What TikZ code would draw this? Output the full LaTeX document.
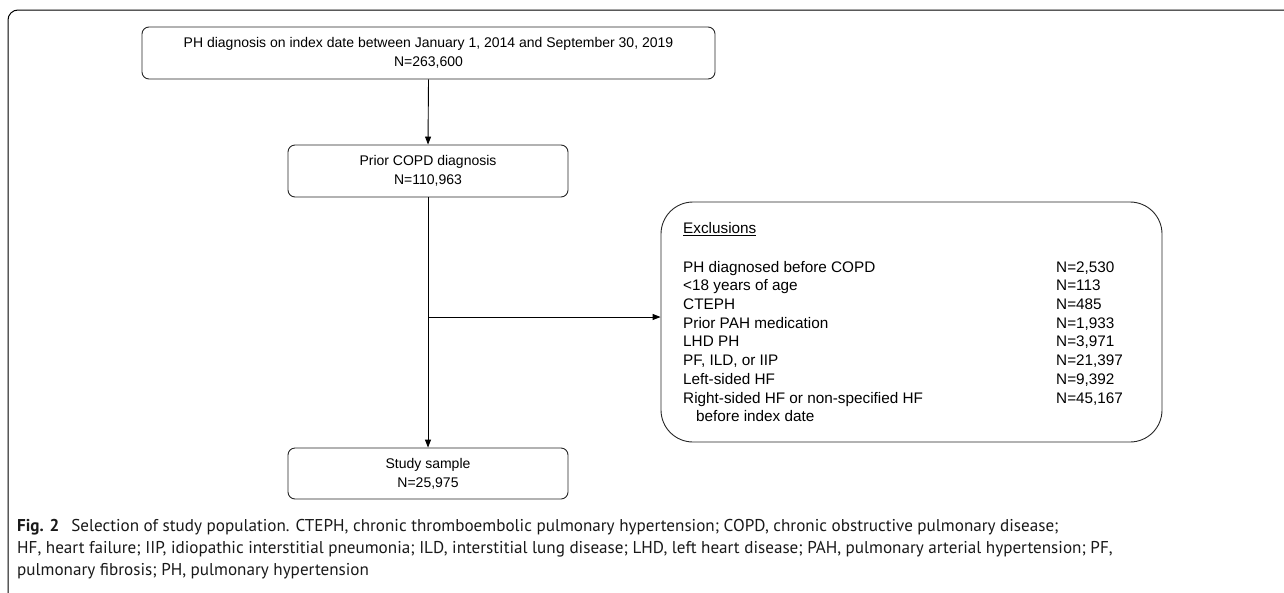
\documentclass[tikz,border=0pt]{standalone}
\usepackage{fontspec}
\setmainfont{Liberation Sans}
\newfontfamily\capfont{PT Sans}
\usetikzlibrary{arrows.meta}
\begin{document}
\begin{tikzpicture}[x=1pt,y=-1pt,
  box/.style={draw=black!85, line width=0.9pt, rounded corners=7pt, inner sep=0pt, align=center, font=\fontsize{14}{19.2}\selectfont},
  arr/.style={-{Triangle[width=6pt,length=8pt]}, line width=0.9pt},
  txt/.style={anchor=base west, inner sep=0pt, font=\fontsize{15.3}{19}\selectfont},
  captxt/.style={anchor=base west, inner sep=0pt, text=black!90, font=\capfont\fontsize{17.1}{20}\selectfont}]
\useasboundingbox (0,0) rectangle (1284,592);
\draw[line width=1pt, rounded corners=10pt] (8,640) |- (1320,10);
\node[box, minimum width=573pt, minimum height=52pt] (top) at (428.5,53) {PH diagnosis on index date between January 1, 2014 and September 30, 2019\\N=263,600};
\node[box, minimum width=280pt, minimum height=52pt] (prior) at (428,171) {Prior COPD diagnosis\\N=110,963};
\node[box, minimum width=280pt, minimum height=51pt] (study) at (428,473.5) {Study sample\\N=25,975};
\node[draw=black!85, line width=0.9pt, rounded corners=32pt, minimum width=501pt, minimum height=240pt, inner sep=0pt] (excl) at (911.5,322) {};
\coordinate (branch) at (428,317);
\draw[arr] (top.south) -- (prior.north);
\draw[arr] (prior.south) -- (study.north);
\draw[arr] (branch) -- (branch -| excl.west);
\node[txt] (h) at (683,233.5) {\underline{Exclusions}};
\node[txt] (r1) at (683,272.1) {PH diagnosed before COPD};
\node[txt] (r2) at (683,290.8) {<18 years of age};
\node[txt] (r3) at (683,309.5) {CTEPH};
\node[txt] (r4) at (683,328.2) {Prior PAH medication};
\node[txt] (r5) at (683,346.9) {LHD PH};
\node[txt] (r6) at (683,365.6) {PF, ILD, or IIP};
\node[txt] (r7) at (683,384.3) {Left-sided HF};
\node[txt] (r8) at (683,403.0) {Right-sided HF or non-specified HF};
\node[txt] (r9) at (696,421.7) {before index date};
\node[txt] (n1) at (1056,272.1) {N=2,530};
\node[txt] (n2) at (1056,290.8) {N=113};
\node[txt] (n3) at (1056,309.5) {N=485};
\node[txt] (n4) at (1056,328.2) {N=1,933};
\node[txt] (n5) at (1056,346.9) {N=3,971};
\node[txt] (n6) at (1056,365.6) {N=21,397};
\node[txt] (n7) at (1056,384.3) {N=9,392};
\node[txt] (n8) at (1056,403.0) {N=45,167};
\node[captxt] (c1) at (17,531) {\textbf{Fig. 2}\hspace{0.7em}Selection of study population. CTEPH, chronic thromboembolic pulmonary hypertension; COPD, chronic obstructive pulmonary disease;};
\node[captxt] (c2) at (17,553) {HF, heart failure; IIP, idiopathic interstitial pneumonia; ILD, interstitial lung disease; LHD, left heart disease; PAH, pulmonary arterial hypertension; PF,};
\node[captxt] (c3) at (17,575) {pulmonary fibrosis; PH, pulmonary hypertension};
\end{tikzpicture}
\end{document}
